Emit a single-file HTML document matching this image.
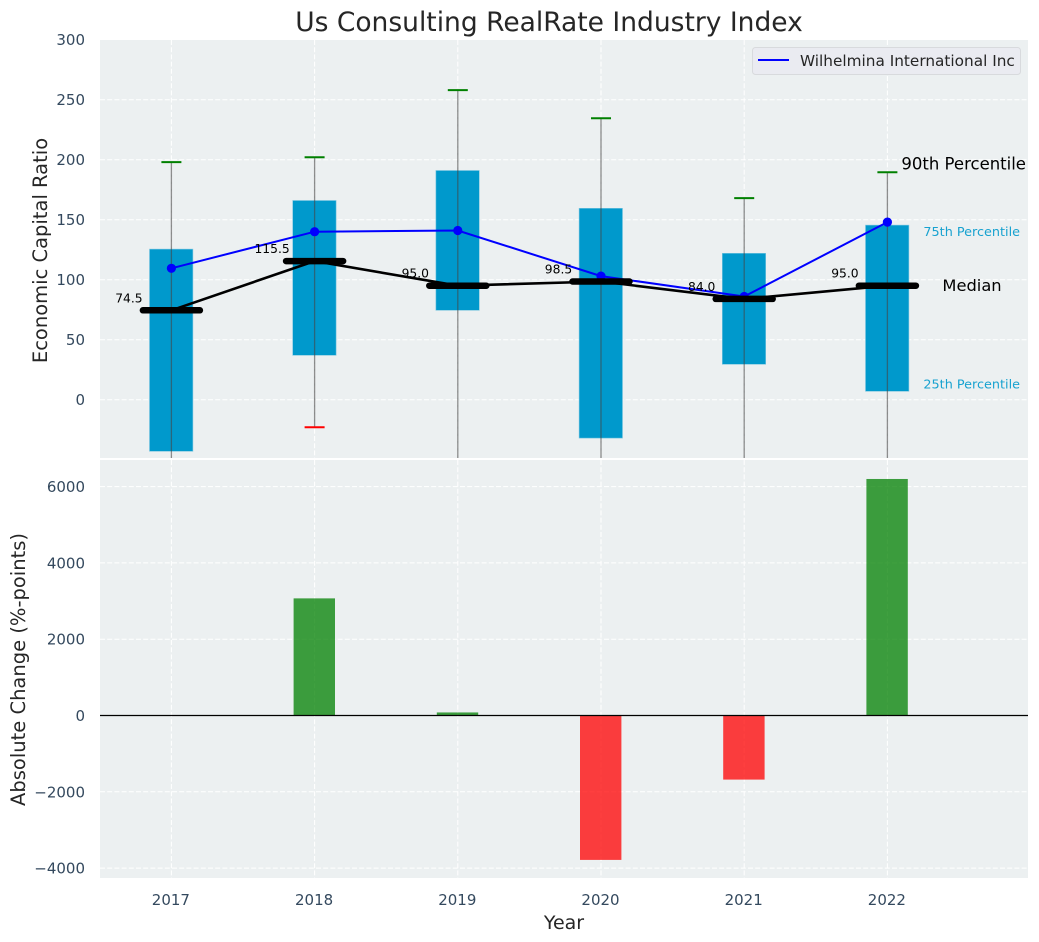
<!DOCTYPE html>
<html lang="en">
<head>
<meta charset="utf-8">
<title>Us Consulting RealRate Industry Index</title>
<style>
html,body{margin:0;padding:0;background:#fff;}
svg{display:block;font-family:"DejaVu Sans","Liberation Sans",sans-serif;}
</style>
</head>
<body>
<svg id="chart" xmlns="http://www.w3.org/2000/svg" width="1039" height="942" viewBox="0 0 1039 942">
  <defs>
    <clipPath id="clip-top"><rect x="100" y="40" width="928" height="418"/></clipPath>
    <clipPath id="clip-bottom"><rect x="100" y="460" width="928" height="418"/></clipPath>
  </defs>
  <rect width="1039" height="942" fill="#ffffff"/>
  <rect x="100" y="40" width="928" height="418" fill="#ecf0f1"/>
  <rect x="100" y="460" width="928" height="418" fill="#ecf0f1"/>
  <g id="grid"></g>
  <g id="top-marks" clip-path="url(#clip-top)"></g>
  <g id="bottom-marks" clip-path="url(#clip-bottom)"></g>
  <g id="labels"></g>
  <text x="549" y="31" font-size="26.5" fill="#262626" text-anchor="middle">Us Consulting RealRate Industry Index</text>
  <text transform="translate(47,250.5) rotate(-90)" font-size="19.5" fill="#262626" text-anchor="middle">Economic Capital Ratio</text>
  <text transform="translate(25,669.5) rotate(-90)" font-size="19.5" fill="#262626" text-anchor="middle">Absolute Change (%-points)</text>
  <text x="564" y="929" font-size="19" fill="#262626" text-anchor="middle">Year</text>
  <g>
    <rect x="752.5" y="47.5" width="268" height="27" rx="3" fill="#eaebf1" stroke="#d8dadd" stroke-width="1"/>
    <line x1="758" y1="60" x2="789" y2="60" stroke="#0000ff" stroke-width="2"/>
    <text x="800" y="66" font-size="15.3" fill="#262626">Wilhelmina International Inc</text>
  </g>
</svg>
<script>
const years = [2017, 2018, 2019, 2020, 2021, 2022];
const p90 = [198, 202, 258, 234.5, 168, 189.5];
const p75 = [125.5, 166, 191, 159.5, 122, 145.5];
const medians = [74.5, 115.5, 95.0, 98.5, 84.0, 95.0];
const p25 = [-43, 37, 74.5, -32, 29.5, 7];
const p10 = [-70, -23, -70, -70, -70, -70];
const company = [109.5, 140, 141, 103, 86, 148];
const changes = [0, 3070, 80, -3785, -1680, 6200];
const topTicks = [0, 50, 100, 150, 200, 250, 300];
const bottomTicks = [-4000, -2000, 0, 2000, 4000, 6000];

const NS = 'http://www.w3.org/2000/svg';
function xPos(year) { return 171.4 + (year - 2017) * 143.2; }
function yTop(v) { return 399.7 - v * 1.2; }
function yBottom(v) { return 715.5 - v * 0.03815; }

const grid = document.getElementById('grid');
const topMarks = document.getElementById('top-marks');
const bottomMarks = document.getElementById('bottom-marks');
const labels = document.getElementById('labels');

function make(parent, tag, attrs, content) {
  const el = document.createElementNS(NS, tag);
  for (const k in attrs) el.setAttribute(k, attrs[k]);
  if (content !== undefined) el.textContent = content;
  parent.appendChild(el);
  return el;
}
function gridAttrs(x1, y1, x2, y2) {
  return { x1: x1, y1: y1, x2: x2, y2: y2, stroke: '#ffffff', 'stroke-width': 1, 'stroke-dasharray': '5 2.2' };
}

topTicks.forEach(function (t) {
  if (t < 300) {
    const g = make(grid, 'line', gridAttrs(100, yTop(t), 1028, yTop(t)));
    
    
  }
  const l = make(labels, 'text', { x: 85, y: yTop(t) + 5.5, 'font-size': 15, fill: '#34495e', 'text-anchor': 'end' }, String(t));
  
  
});
bottomTicks.forEach(function (t) {
  const g = make(grid, 'line', gridAttrs(100, yBottom(t), 1028, yBottom(t)));
  
  
  const txt = t < 0 ? '\u2212' + Math.abs(t) : String(t);
  const l = make(labels, 'text', { x: 85, y: yBottom(t) + 5.5, 'font-size': 15, fill: '#34495e', 'text-anchor': 'end' }, txt);
  
  
});
years.forEach(function (yr) {
  const a = make(grid, 'line', gridAttrs(xPos(yr), 40, xPos(yr), 458));
  
  
  const b = make(grid, 'line', gridAttrs(xPos(yr), 460, xPos(yr), 878));
  
  
  const l = make(labels, 'text', { x: xPos(yr) - 0.5, y: 905, 'font-size': 15, fill: '#34495e', 'text-anchor': 'middle' }, String(yr));
  
  
});

years.forEach(function (yr, i) {
  const x = xPos(yr);
  const box = make(topMarks, 'rect', { x: x - 21.9, y: yTop(p75[i]), width: 43.4, height: yTop(p25[i]) - yTop(p75[i]), fill: '#0099cc', stroke: '#7cc6e0', 'stroke-width': 0.6 });
  
  
  const w = make(topMarks, 'line', { x1: x, y1: yTop(p90[i]), x2: x, y2: yTop(p10[i]), stroke: '#444444', 'stroke-opacity': 0.6, 'stroke-width': 1.3 });
  
  
  const c1 = make(topMarks, 'line', { x1: x - 10, y1: yTop(p90[i]), x2: x + 10, y2: yTop(p90[i]), stroke: '#008000', 'stroke-width': 2 });
  
  
  const c2 = make(topMarks, 'line', { x1: x - 10, y1: yTop(p10[i]), x2: x + 10, y2: yTop(p10[i]), stroke: '#ff0000', 'stroke-width': 2 });
  
  
});

const companyPoints = years.map(function (yr, i) { return xPos(yr) + ',' + yTop(company[i]); }).join(' ');
const medianPoints = years.map(function (yr, i) { return xPos(yr) + ',' + yTop(medians[i]); }).join(' ');

const medLine = make(topMarks, 'polyline', { points: medianPoints, fill: 'none', stroke: '#000000', 'stroke-width': 2.6 });


const compLine = make(topMarks, 'polyline', { points: companyPoints, fill: 'none', stroke: '#0000ff', 'stroke-width': 2 });



years.forEach(function (yr, i) {
  const x = xPos(yr);
  const dot = make(topMarks, 'circle', { cx: x, cy: yTop(company[i]), r: 4.6, fill: '#0000ff' });
  
  
  const m = make(topMarks, 'line', { x1: x - 28.5, y1: yTop(medians[i]), x2: x + 28.5, y2: yTop(medians[i]), stroke: '#000000', 'stroke-width': 6.5, 'stroke-linecap': 'round' });
  
  
  const t = make(labels, 'text', { x: x - 42.5, y: yTop(medians[i]) - 8, 'font-size': 12.3, fill: '#000000', 'text-anchor': 'middle' }, medians[i].toFixed(1));
  
  
});

const lastX = xPos(years[years.length - 1]);
const last = years.length - 1;
const t90 = make(labels, 'text', { x: lastX + 14, y: yTop(p90[last]) - 3, 'font-size': 16.5, fill: '#000000' }, '90th Percentile');


const t75 = make(labels, 'text', { x: lastX + 36, y: yTop(p75[last]) + 11, 'font-size': 12.8, fill: '#0099cc', 'fill-opacity': 0.9 }, '75th Percentile');


const tMed = make(labels, 'text', { x: lastX + 55, y: yTop(medians[last]) + 5.5, 'font-size': 16.3, fill: '#000000' }, 'Median');


const t25 = make(labels, 'text', { x: lastX + 36, y: yTop(p25[last]) - 3, 'font-size': 12.8, fill: '#0099cc', 'fill-opacity': 0.9 }, '25th Percentile');



years.forEach(function (yr, i) {
  const v = changes[i];
  if (v === 0) return;
  const y0 = yBottom(Math.max(v, 0));
  const y1 = yBottom(Math.min(v, 0));
  const b = make(bottomMarks, 'rect', { x: xPos(yr) - 21, y: y0, width: 41.4, height: y1 - y0, fill: v >= 0 ? '#008000' : '#ff0000', 'fill-opacity': 0.75 });
  
  
});
const zero = make(bottomMarks, 'line', { x1: 100, y1: yBottom(0), x2: 1028, y2: yBottom(0), stroke: '#000000', 'stroke-width': 1.3 });


</script>
</body>
</html>
